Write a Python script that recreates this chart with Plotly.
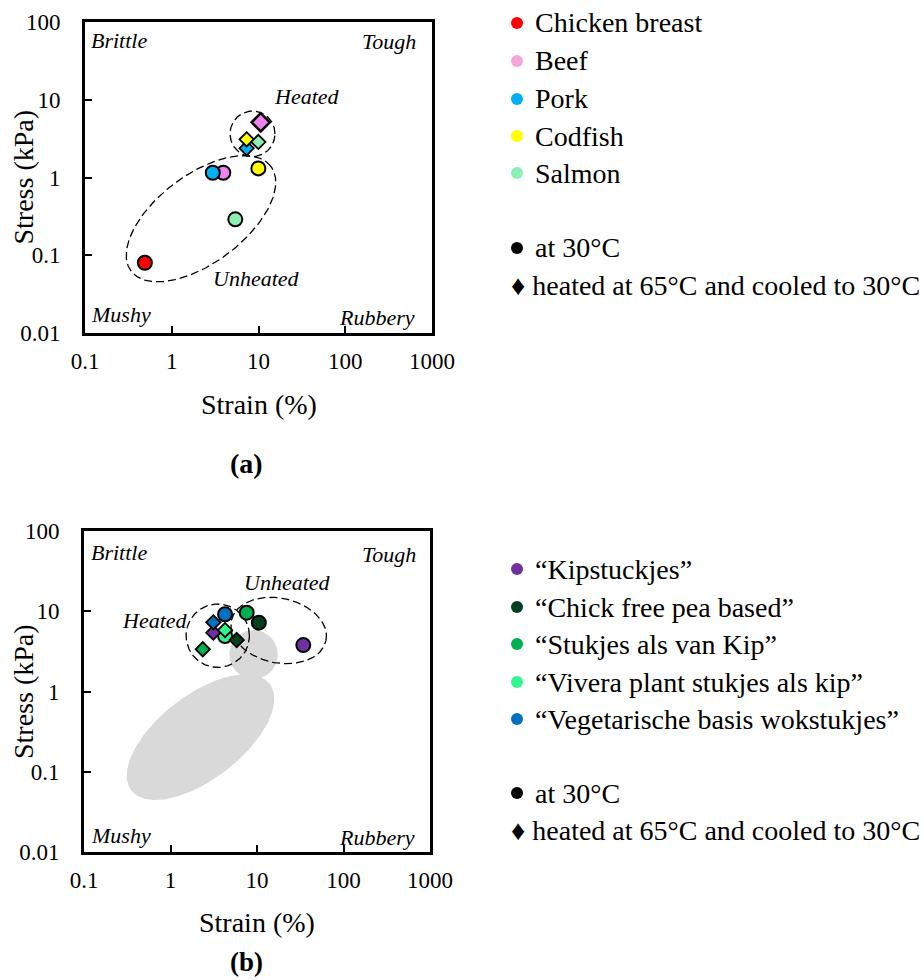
import numpy as np
import plotly.graph_objects as go

# ---------------- data ----------------
TICK_X_VALS = [0.1, 1, 10, 100, 1000]
TICK_X_TEXT = ["0.1", "1", "10", "100", "1000"]
TICK_Y_VALS = [0.01, 0.1, 1, 10, 100]
TICK_Y_TEXT = ["0.01", "0.1", "1", "10", "100"]

A_NAMES = ["Chicken breast", "Beef", "Pork", "Codfish", "Salmon"]
A_COLORS = ["#FF0000", "#EE82EE", "#00B0F0", "#FFFF00", "#8CF0B4"]
A_LEGEND_COLORS = ["#FF0000", "#F4A6D7", "#00B0F0", "#FFFF00", "#8CF0B4"]
A_UNHEATED_STRAIN = [0.49, 3.93, 2.97, 9.96, 5.4]
A_UNHEATED_STRESS = [0.080, 1.15, 1.15, 1.31, 0.29]
A_HEATED_STRAIN = [None, 10.6, 7.3, 7.3, 9.96]
A_HEATED_STRESS = [None, 5.13, 2.38, 3.10, 2.87]

B_NAMES = ["\u201cKipstuckjes\u201d", "\u201cChick free pea based\u201d", "\u201cStukjes als van Kip\u201d",
           "\u201cVivera plant stukjes als kip\u201d", "\u201cVegetarische basis wokstukjes\u201d"]
B_COLORS = ["#7030A0", "#00401F", "#00B050", "#33F590", "#0070C0"]
B_UNHEATED_STRAIN = [34.3, 10.5, 7.6, 4.27, 4.27]
B_UNHEATED_STRESS = [3.79, 7.2, 9.6, 4.92, 9.17]
B_HEATED_STRAIN = [3.13, 5.82, 2.36, 4.27, 3.13]
B_HEATED_STRESS = [5.41, 4.38, 3.36, 5.83, 7.28]

COND_LABELS = ["at 30\u00b0C", "\u2666 heated at 65\u00b0C and cooled to 30\u00b0C"]
QUAD_LABELS = ["Brittle", "Tough", "Mushy", "Rubbery"]

# region outlines in log10 space: centre, conjugate semi-axis vectors u, v
REG_A_UNHEATED = dict(c=(0.337, -0.530), u=(0.806, 0.673), v=(-0.305, 0.454))
REG_A_HEATED = dict(c=(0.931, 0.562), u=(0.259, 0.0), v=(0.0, 0.293))
REG_B_GRAY_BIG = dict(c=(0.347, -0.569), u=(0.800, 0.664), v=(-0.296, 0.415))
REG_B_GRAY_SMALL = dict(c=(0.960, 0.461), u=(0.280, 0.0), v=(0.0, 0.305))
REG_B_HEATED = dict(c=(0.546, 0.695), u=(0.366, 0.0), v=(0.0, 0.395))
REG_B_UNHEATED = dict(c=(1.251, 0.760), u=(0.547, -0.126), v=(0.078, 0.394))

# ---------------- layout helpers ----------------
W, H = 923, 980
FONT = "Liberation Serif, Times New Roman, serif"


def fx(p):
    return p / W


def fy(p):
    return 1 - p / H


def outline(reg, n=240):
    t = np.linspace(0, 2 * np.pi, n)
    lx = reg["c"][0] + reg["u"][0] * np.cos(t) + reg["v"][0] * np.sin(t)
    ly = reg["c"][1] + reg["u"][1] * np.cos(t) + reg["v"][1] * np.sin(t)
    return 10 ** lx, 10 ** ly


fig = go.Figure()

# gray regions in panel b
for reg in (REG_B_GRAY_BIG, REG_B_GRAY_SMALL):
    ex, ey = outline(reg)
    fig.add_trace(go.Scatter(x=ex, y=ey, mode="lines", fill="toself", fillcolor="#D9D9D9",
                             line=dict(width=0, color="#D9D9D9"), xaxis="x2", yaxis="y2",
                             hoverinfo="skip", showlegend=False))

# dashed regions
for reg, xa, ya in ((REG_A_UNHEATED, "x", "y"), (REG_A_HEATED, "x", "y"),
                    (REG_B_HEATED, "x2", "y2"), (REG_B_UNHEATED, "x2", "y2")):
    ex, ey = outline(reg)
    fig.add_trace(go.Scatter(x=ex, y=ey, mode="lines",
                             line=dict(width=1.3, color="black", dash="8px,4px"),
                             xaxis=xa, yaxis=ya, hoverinfo="skip", showlegend=False))

# panel a markers
for i, name in enumerate(A_NAMES):
    fig.add_trace(go.Scatter(x=[A_UNHEATED_STRAIN[i]], y=[A_UNHEATED_STRESS[i]], mode="markers",
                             marker=dict(symbol="circle", size=14, color=A_COLORS[i],
                                         line=dict(color="black", width=2)),
                             name=name, xaxis="x", yaxis="y", showlegend=False))
for i, name in enumerate(A_NAMES):
    if A_HEATED_STRAIN[i] is None:
        continue
    big = name == "Beef"
    fig.add_trace(go.Scatter(x=[A_HEATED_STRAIN[i]], y=[A_HEATED_STRESS[i]], mode="markers",
                             marker=dict(symbol="diamond", size=14 if big else 11, color=A_COLORS[i],
                                         line=dict(color="black", width=2.5 if big else 1.8)),
                             name=name, xaxis="x", yaxis="y", showlegend=False))

# panel b markers
for i, name in enumerate(B_NAMES):
    fig.add_trace(go.Scatter(x=[B_UNHEATED_STRAIN[i]], y=[B_UNHEATED_STRESS[i]], mode="markers",
                             marker=dict(symbol="circle", size=14, color=B_COLORS[i],
                                         line=dict(color="black", width=2)),
                             name=name, xaxis="x2", yaxis="y2", showlegend=False))
for i, name in enumerate(B_NAMES):
    fig.add_trace(go.Scatter(x=[B_HEATED_STRAIN[i]], y=[B_HEATED_STRESS[i]], mode="markers",
                             marker=dict(symbol="diamond", size=11, color=B_COLORS[i],
                                         line=dict(color="black", width=1.8)),
                             name=name, xaxis="x2", yaxis="y2", showlegend=False))

axis_common = dict(type="log", showgrid=False, zeroline=False, showline=True, linecolor="black",
                   linewidth=3, mirror=True, ticks="inside", ticklen=7, tickwidth=2,
                   tickcolor="black", automargin=False,
                   tickfont=dict(family=FONT, size=23, color="black"))

fig.update_layout(
    width=W, height=H, margin=dict(l=0, r=0, t=0, b=0, autoexpand=False),
    paper_bgcolor="white", plot_bgcolor="white", showlegend=False,
    xaxis=dict(axis_common, range=[-1, 3], domain=[fx(85), fx(432)], anchor="y",
               tickvals=TICK_X_VALS, ticktext=TICK_X_TEXT, ticklabelstandoff=5),
    yaxis=dict(axis_common, range=[-2, 2], domain=[fy(333), fy(22)], anchor="x",
               tickvals=TICK_Y_VALS, ticktext=TICK_Y_TEXT, ticklabelstandoff=17),
    xaxis2=dict(axis_common, range=[-1, 3], domain=[fx(84), fx(430)], anchor="y2",
                tickvals=TICK_X_VALS, ticktext=TICK_X_TEXT, ticklabelstandoff=5),
    yaxis2=dict(axis_common, range=[-2, 2], domain=[fy(852), fy(531)], anchor="x2",
                tickvals=TICK_Y_VALS, ticktext=TICK_Y_TEXT, ticklabelstandoff=17),
)

ann = []
shapes = []


def text(x, y, s, size, xanchor="center", angle=0):
    ann.append(dict(x=fx(x), y=fy(y), xref="paper", yref="paper", text=s, showarrow=False,
                    xanchor=xanchor, yanchor="middle", textangle=angle,
                    font=dict(family=FONT, size=size, color="black")))


def dot(x, y, color, r=6):
    shapes.append(dict(type="circle", xref="paper", yref="paper", x0=fx(x - r), x1=fx(x + r),
                       y0=fy(y + r), y1=fy(y - r), fillcolor=color, line=dict(width=0)))


# axis titles
for yc, xc in ((404, 258.5), (922, 257)):
    text(xc, yc, "Strain (%)", 28)
for yc in (177.5, 692):
    text(23, yc, "Stress (kPa)", 28, angle=-90)

# quadrant labels
for top, bot in ((40, 315), (552, 835)):
    text(89, top, "<i>%s</i>" % QUAD_LABELS[0], 22, xanchor="left")
    text(418, top + 2, "<i>%s</i>" % QUAD_LABELS[1], 22, xanchor="right")
    text(89, bot, "<i>%s</i>" % QUAD_LABELS[2], 22, xanchor="left")
    text(417, bot + 2, "<i>%s</i>" % QUAD_LABELS[3], 22, xanchor="right")

text(307, 97, "<i>Heated</i>", 22)
text(256, 278, "<i>Unheated</i>", 22)
text(287, 582, "<i>Unheated</i>", 22)
text(155, 620, "<i>Heated</i>", 22)

# panel letters
text(247, 463, "<b>(a)</b>", 28)
text(247, 962, "<b>(b)</b>", 27)

# legends
A_ROWS = [23, 61, 99, 136, 173]
B_ROWS = [569, 607, 644, 682, 719]
for rows, names, cols in ((A_ROWS, A_NAMES, A_LEGEND_COLORS), (B_ROWS, B_NAMES, B_COLORS)):
    for yy, nm, cc in zip(rows, names, cols):
        dot(517, yy, cc)
        text(533, yy, nm, 28, xanchor="left")
for y1, y2 in ((248, 285), (793, 830)):
    dot(517, y1, "black")
    text(533, y1, COND_LABELS[0], 28, xanchor="left")
    text(509, y2, COND_LABELS[1], 28, xanchor="left")

fig.update_layout(annotations=ann, shapes=shapes)
fig.write_html("out.html")
